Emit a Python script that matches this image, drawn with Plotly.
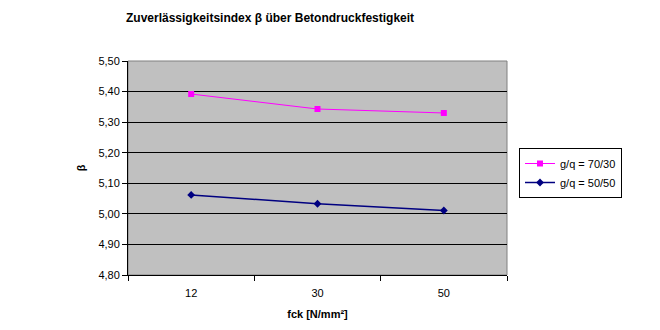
import plotly.graph_objects as go

categories = ["12", "30", "50"]
series_70_30 = [5.392, 5.343, 5.330]
series_50_50 = [5.062, 5.033, 5.011]
y_ticks = [4.8, 4.9, 5.0, 5.1, 5.2, 5.3, 5.4, 5.5]
y_tick_labels = ["4,80", "4,90", "5,00", "5,10", "5,20", "5,30", "5,40", "5,50"]

L, R, T, B = 128, 153, 61, 55
W, H = 660, 330
pw = W - L - R
ph = H - T - B

fig = go.Figure()
fig.add_trace(go.Scatter(
    x=categories, y=series_70_30, mode="lines+markers", name="g/q = 70/30",
    line=dict(color="#ff00ff", width=1),
    marker=dict(symbol="square", size=6, color="#ff00ff"),
))
fig.add_trace(go.Scatter(
    x=categories, y=series_50_50, mode="lines+markers", name="g/q = 50/50",
    line=dict(color="#000080", width=1.5),
    marker=dict(symbol="diamond", size=6, color="#000080"),
))

font = "Liberation Sans, Arial, sans-serif"
fig.update_layout(
    width=W, height=H,
    margin=dict(l=L, r=R, t=T, b=B),
    paper_bgcolor="white", plot_bgcolor="#c0c0c0",
    font=dict(family=font, size=11, color="black"),
    showlegend=True,
    legend=dict(
        x=(519 - L) / pw, y=(H - B - 148) / ph, xanchor="left", yanchor="top",
        bgcolor="white", bordercolor="black", borderwidth=1,
        font=dict(size=11), itemwidth=30, tracegroupgap=0,
    ),
    xaxis=dict(
        type="category", range=[-0.5, 2.5], showgrid=False,
        showline=True, linecolor="black", linewidth=1,
        ticks="outside", tickson="boundaries", ticklen=5, tickcolor="black",
        tickfont=dict(size=11), ticklabelstandoff=8,
        title=dict(text="<b>fck [N/mm²]</b>", font=dict(size=11), standoff=12),
    ),
    yaxis=dict(
        range=[4.8, 5.5], tickvals=y_ticks, ticktext=y_tick_labels,
        showgrid=True, gridcolor="black", gridwidth=1,
        showline=True, linecolor="black", linewidth=1,
        ticks="outside", ticklen=5, tickcolor="black",
        tickfont=dict(size=11), zeroline=False,
        title=dict(text="<b>β</b>", font=dict(size=11), standoff=10),
    ),
    shapes=[dict(type="rect", xref="paper", yref="paper", x0=0, x1=1, y0=0, y1=1,
                 line=dict(color="#808080", width=1), layer="below")],
    annotations=[dict(
        text="<b>Zuverlässigkeitsindex β über Betondruckfestigkeit</b>",
        xref="paper", yref="paper", x=(270 - L) / pw, y=(H - B - 18) / ph,
        xanchor="center", yanchor="middle", showarrow=False,
        font=dict(size=12, family=font),
    )],
)

fig.write_html("out.html")
